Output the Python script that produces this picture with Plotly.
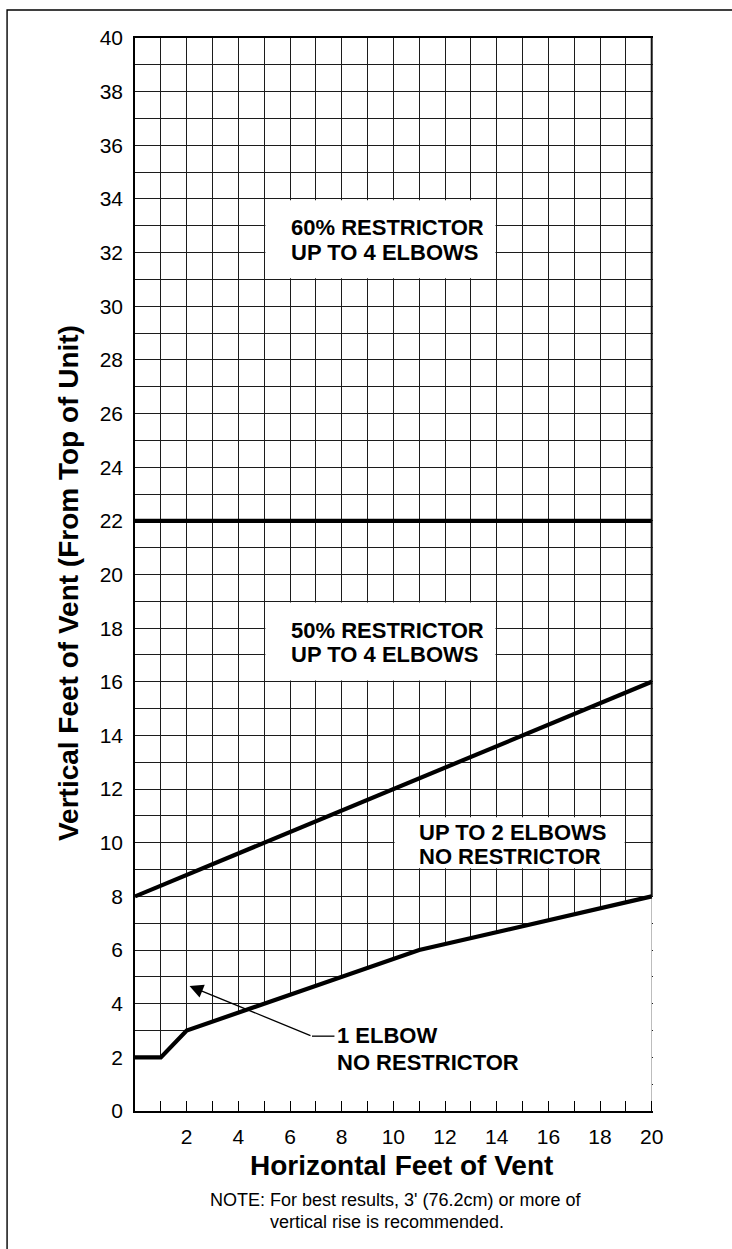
import plotly.graph_objects as go

# ---------------- data ----------------
x_tick_vals = [2, 4, 6, 8, 10, 12, 14, 16, 18, 20]
y_tick_vals = list(range(0, 41, 2))

limit_x = [0, 20]
limit_y = [22, 22]

upper_x = [0, 20]
upper_y = [8, 16]

lower_x = [0, 1, 2, 11, 20]
lower_y = [2, 2, 3, 6, 8]

# label regions (blank boxes in the grid): [x0, x1, y0, y1]
box_60 = [5, 14, 31, 34]
box_50 = [5, 14, 16, 19]
box_2e = [10, 19, 9, 11]

text_60 = ["60% RESTRICTOR", "UP TO 4 ELBOWS"]
text_50 = ["50% RESTRICTOR", "UP TO 4 ELBOWS"]
text_2e = ["UP TO 2 ELBOWS", "NO RESTRICTOR"]
text_1e = ["1 ELBOW", "NO RESTRICTOR"]

x_title = "Horizontal Feet of Vent"
y_title = "Vertical Feet of Vent (From Top of Unit)"
note_lines = ["NOTE: For best results, 3' (76.2cm) or more of",
              "vertical rise is recommended."]

# ---------------- layout geometry ----------------
W, H = 732, 1249
ML, MT, MB = 135, 38, 138
X_MAX = 20.05
plot_w = 517 * X_MAX / 20
MR = W - ML - plot_w
plot_h = H - MT - MB
Y_MAX = 40

def px_x(p):
    return (p - ML) / plot_w

def px_y(p):
    return (H - MB - p) / plot_h

BOLD = "Liberation Sans, Arial, sans-serif"
REG = "Liberation Sans, Arial, sans-serif"

fig = go.Figure()

# white area below the lowest line (no grid there)
fig.add_trace(go.Scatter(x=lower_x, y=lower_y, mode="lines", fill="tozeroy",
                         fillcolor="white", line=dict(width=0, color="white"),
                         hoverinfo="skip", showlegend=False))

# blank label boxes
ix, iy = 0.045, 0.045
for b in (box_60, box_50, box_2e):
    x0, x1, y0, y1 = b
    fig.add_trace(go.Scatter(x=[x0 + ix, x1 - ix, x1 - ix, x0 + ix, x0 + ix],
                             y=[y0 + iy, y0 + iy, y1 - iy, y1 - iy, y0 + iy],
                             mode="lines", fill="toself", fillcolor="white",
                             line=dict(width=0, color="white"),
                             hoverinfo="skip", showlegend=False))

# right edge of the grid (from the lowest line up to the top)
fig.add_trace(go.Scatter(x=[lower_x[-1], lower_x[-1]], y=[lower_y[-1], Y_MAX],
                         mode="lines", line=dict(color="#111", width=2),
                         hoverinfo="skip", showlegend=False))

# boundary lines
for xs, ys in ((limit_x, limit_y), (upper_x, upper_y), (lower_x, lower_y)):
    fig.add_trace(go.Scatter(x=xs, y=ys, mode="lines",
                             line=dict(color="black", width=4.2),
                             hoverinfo="skip", showlegend=False))

def add_lines(lines, x, ys, size=22):
    for t, yv in zip(lines, ys):
        fig.add_annotation(x=x, y=yv, xref="x", yref="y", text="<b>%s</b>" % t,
                           showarrow=False, xanchor="left", yanchor="middle",
                           font=dict(family=BOLD, size=size, color="black"))

add_lines(text_60, 5.95, [32.93, 32.02])
add_lines(text_50, 5.95, [17.93, 17.02])
add_lines(text_2e, 10.93, [10.4, 9.5])
add_lines(text_1e, 7.75, [2.8, 1.82])

# leader arrow for "1 ELBOW"
fig.add_annotation(x=2.11, y=4.66, ax=6.85, ay=2.79, xref="x", yref="y",
                   axref="x", ayref="y", text="", showarrow=True,
                   arrowhead=2, arrowsize=2.1, arrowwidth=1.3, arrowcolor="black",
                   standoff=0, startstandoff=0)
fig.add_shape(type="line", xref="x", yref="y", x0=6.85, y0=2.79, x1=7.72, y1=2.79,
              line=dict(color="black", width=1.3))

# axis titles and note
fig.add_annotation(x=px_x(68), y=px_y(583), xref="paper", yref="paper",
                   text="<b>%s</b>" % y_title, textangle=-90, showarrow=False,
                   xanchor="center", yanchor="middle",
                   font=dict(family=BOLD, size=28, color="black"))
fig.add_annotation(x=px_x(402), y=px_y(1165), xref="paper", yref="paper",
                   text="<b>%s</b>" % x_title, showarrow=False,
                   xanchor="center", yanchor="middle",
                   font=dict(family=BOLD, size=28, color="black"))
for t, (cx, cy) in zip(note_lines, [(396, 1200), (387, 1222)]):
    fig.add_annotation(x=px_x(cx), y=px_y(cy), xref="paper", yref="paper",
                       text=t, showarrow=False, xanchor="center", yanchor="middle",
                       font=dict(family=REG, size=18, color="black"))

# outer frame (top and left edges visible)
fig.add_shape(type="rect", xref="paper", yref="paper",
              x0=px_x(7), x1=px_x(W + 40), y0=px_y(H + 40), y1=px_y(10),
              line=dict(color="black", width=1.4), layer="above")

grid_col = "#1c1c1c"
fig.update_xaxes(range=[0, X_MAX], tickmode="array", tickvals=x_tick_vals,
                 ticktext=[str(v) for v in x_tick_vals],
                 showgrid=True, gridcolor=grid_col, gridwidth=1,
                 ticks="inside", ticklen=10, tickwidth=1.2, tickcolor="black",
                 minor=dict(tickmode="array", tickvals=list(range(0, 21)),
                            ticks="inside", ticklen=10, tickwidth=1.2,
                            tickcolor="black", showgrid=True,
                            gridcolor=grid_col, gridwidth=1),
                 showline=True, linecolor="black", linewidth=1.6, mirror=True,
                 zeroline=False, ticklabelstandoff=6,
                 tickfont=dict(family=REG, size=21, color="black"),
                 fixedrange=True)
fig.update_yaxes(range=[0, Y_MAX], tickmode="array", tickvals=y_tick_vals,
                 ticktext=[str(v) for v in y_tick_vals],
                 showgrid=True, gridcolor=grid_col, gridwidth=1, ticks="",
                 minor=dict(tickmode="array", tickvals=list(range(0, 41)),
                            showgrid=True, gridcolor=grid_col, gridwidth=1),
                 showline=True, linecolor="black", linewidth=1.6, mirror=False,
                 zeroline=False, ticklabelstandoff=6,
                 tickfont=dict(family=REG, size=21, color="black"),
                 fixedrange=True)

fig.update_layout(width=W, height=H, autosize=False,
                  margin=dict(l=ML, r=MR, t=MT, b=MB, pad=0),
                  paper_bgcolor="white", plot_bgcolor="white",
                  showlegend=False)

fig.write_html("out.html", config={"displayModeBar": False},
               post_script="document.body.style.margin='0';")
